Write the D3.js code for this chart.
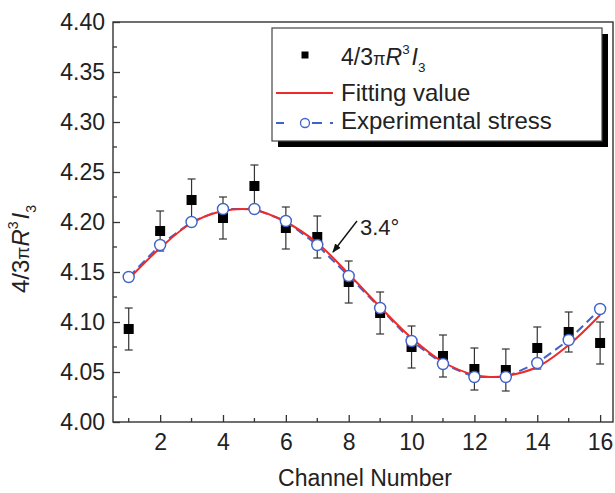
<!DOCTYPE html>
<html><head><meta charset="utf-8">
<script src="https://cdn.jsdelivr.net/npm/d3@7"></script>
<style>
html,body{margin:0;padding:0;background:#fff;}
svg text{font-family:"Liberation Sans",Arial,Helvetica,sans-serif;fill:#222;}
</style></head><body>
<svg id="chart" width="615" height="493"></svg>
<script>
const channels = [1,2,3,4,5,6,7,8,9,10,11,12,13,14,15,16];
const measured = [4.093,4.191,4.222,4.204,4.236,4.194,4.185,4.140,4.109,4.075,4.066,4.053,4.052,4.074,4.090,4.079];
const errors   = [0.021,0.020,0.021,0.021,0.021,0.021,0.021,0.021,0.021,0.021,0.021,0.021,0.021,0.021,0.020,0.021];
const experimental = [4.145,4.177,4.200,4.213,4.213,4.201,4.177,4.146,4.114,4.081,4.058,4.045,4.045,4.059,4.082,4.113];
const fitX = [1,2,3,4,5,6,7,8,9,10,11,12,12.5,13,14,15,16];
const fitY = [4.143,4.174,4.199,4.211,4.212,4.200,4.179,4.148,4.115,4.084,4.060,4.047,4.045,4.046,4.055,4.077,4.107];
const yTicks = [4.00,4.05,4.10,4.15,4.20,4.25,4.30,4.35,4.40];
const xTicks = [2,4,6,8,10,12,14,16];
const legendLabels = ["Fitting value","Experimental stress"];

const svg = d3.select("#chart");
const L=113, R=613, T=22, B=422;
const x = d3.scaleLinear().domain([0.5,16.41]).range([L,R]);
const y = d3.scaleLinear().domain([4.0,4.4]).range([B,T]);
const frameColor="#333";

// frame
svg.append("rect").attr("x",L).attr("y",T).attr("width",R-L).attr("height",B-T)
  .attr("fill","none").attr("stroke",frameColor).attr("stroke-width",1.4);

// y axis
const yAxis = d3.axisLeft(y).tickValues(yTicks).tickFormat(d3.format(".2f")).tickSizeInner(-7).tickSizeOuter(0).tickPadding(8);
const gy = svg.append("g").attr("transform",`translate(${L},0)`).call(yAxis);
gy.select(".domain").remove();
gy.selectAll("line").attr("stroke",frameColor).attr("stroke-width",1.3);
gy.selectAll("text").style("font-size","23px").attr("fill","#222");
const yMinor = d3.range(4.025,4.4,0.05);
svg.append("g").selectAll("line").data(yMinor).join("line")
  .attr("x1",L).attr("x2",L+4).attr("y1",d=>y(d)).attr("y2",d=>y(d))
  .attr("stroke",frameColor).attr("stroke-width",1.3);

// x axis
const xAxis = d3.axisBottom(x).tickValues(xTicks).tickFormat(d3.format("d")).tickSizeInner(-7).tickSizeOuter(0).tickPadding(12);
const gx = svg.append("g").attr("transform",`translate(0,${B})`).call(xAxis);
gx.select(".domain").remove();
gx.selectAll("line").attr("stroke",frameColor).attr("stroke-width",1.3);
gx.selectAll("text").style("font-size","23px").attr("fill","#222");
const xMinor = d3.range(1,17,2);
svg.append("g").selectAll("line").data(xMinor).join("line")
  .attr("x1",d=>x(d)).attr("x2",d=>x(d)).attr("y1",B).attr("y2",B-4)
  .attr("stroke",frameColor).attr("stroke-width",1.3);

// axis titles
svg.append("text").attr("x",(L+R)/2+2).attr("y",486).attr("text-anchor","middle")
  .style("font-size","23px").text("Channel Number");
function formulaText(sel, big){
  const s = big/24;
  sel.append("tspan").text("4/3");
  sel.append("tspan").text("π").style("font-size",(19*s)+"px");
  sel.append("tspan").text("R").style("font-style","italic");
  sel.append("tspan").text("3").style("font-size",(14*s)+"px").attr("dy",-11*s);
  sel.append("tspan").text("I").style("font-style","italic").attr("dy",11*s).attr("dx",2*s);
  sel.append("tspan").text("3").style("font-size",(14*s)+"px").attr("dy",7*s);
}
const yt = svg.append("text").attr("transform","translate(29,249) rotate(-90)")
  .attr("text-anchor","middle").style("font-size","24px");
formulaText(yt,24);

// error bars
const eg = svg.append("g").attr("stroke","#333").attr("stroke-width",1.2);
channels.forEach((c,i)=>{
  const cx=x(c), y1=y(measured[i]+errors[i]), y2=y(measured[i]-errors[i]);
  eg.append("line").attr("x1",cx).attr("x2",cx).attr("y1",y1).attr("y2",y2);
  eg.append("line").attr("x1",cx-4).attr("x2",cx+4).attr("y1",y1).attr("y2",y1);
  eg.append("line").attr("x1",cx-4).attr("x2",cx+4).attr("y1",y2).attr("y2",y2);
});
// squares
svg.append("g").selectAll("rect").data(channels).join("rect")
  .attr("x",d=>x(d)-5).attr("y",(d,i)=>y(measured[i])-5).attr("width",10).attr("height",10)
  .attr("fill","#000");

// blue dashed line
const blue="#3f63c8", red="#ee2a2a";
svg.append("path").datum(channels)
  .attr("d",d3.line().x(d=>x(d)).y((d,i)=>y(experimental[i])))
  .attr("fill","none").attr("stroke",blue).attr("stroke-width",2).attr("stroke-dasharray","9,5");
// red fit curve
svg.append("path").datum(fitX)
  .attr("d",d3.line().x(d=>x(d)).y((d,i)=>y(fitY[i])).curve(d3.curveCatmullRom))
  .attr("fill","none").attr("stroke",red).attr("stroke-width",2);
// circles
svg.append("g").selectAll("circle").data(channels).join("circle")
  .attr("cx",d=>x(d)).attr("cy",(d,i)=>y(experimental[i])).attr("r",5.5)
  .attr("fill","#fff").attr("stroke",blue).attr("stroke-width",1.4);

// annotation
svg.append("defs").append("marker").attr("id","ah").attr("viewBox","0 0 10 10")
  .attr("refX",9).attr("refY",5).attr("markerWidth",9).attr("markerHeight",9)
  .attr("markerUnits","userSpaceOnUse").attr("orient","auto")
  .append("path").attr("d","M0,1 L10,5 L0,9 Z").attr("fill","#111");
svg.append("line").attr("x1",357).attr("y1",221).attr("x2",333).attr("y2",252)
  .attr("stroke","#111").attr("stroke-width",1.4).attr("marker-end","url(#ah)");
svg.append("text").attr("x",360).attr("y",235).style("font-size","22px").text("3.4°");

// legend
const lg = svg.append("g");
lg.append("rect").attr("x",278).attr("y",34).attr("width",330).attr("height",113).attr("fill","#000");
lg.append("rect").attr("x",272).attr("y",28).attr("width",330).attr("height",113)
  .attr("fill","#fff").attr("stroke","#444").attr("stroke-width",1.2);
lg.append("rect").attr("x",301.5).attr("y",51.5).attr("width",7).attr("height",7).attr("fill","#000");
const lt = lg.append("text").attr("x",341).attr("y",65).style("font-size","23px");
formulaText(lt,23);
lg.append("line").attr("x1",276).attr("x2",333).attr("y1",93).attr("y2",93).attr("stroke",red).attr("stroke-width",2);
lg.append("text").attr("x",341).attr("y",101).style("font-size","24px").text(legendLabels[0]);
lg.append("line").attr("x1",276).attr("x2",333).attr("y1",123).attr("y2",123)
  .attr("stroke",blue).attr("stroke-width",2).attr("stroke-dasharray","8,13,0,15,10");
lg.append("circle").attr("cx",305).attr("cy",123).attr("r",4.5).attr("fill","#fff").attr("stroke",blue).attr("stroke-width",1.3);
lg.append("text").attr("x",341).attr("y",129).style("font-size","24px").text(legendLabels[1]);
</script></body></html>
